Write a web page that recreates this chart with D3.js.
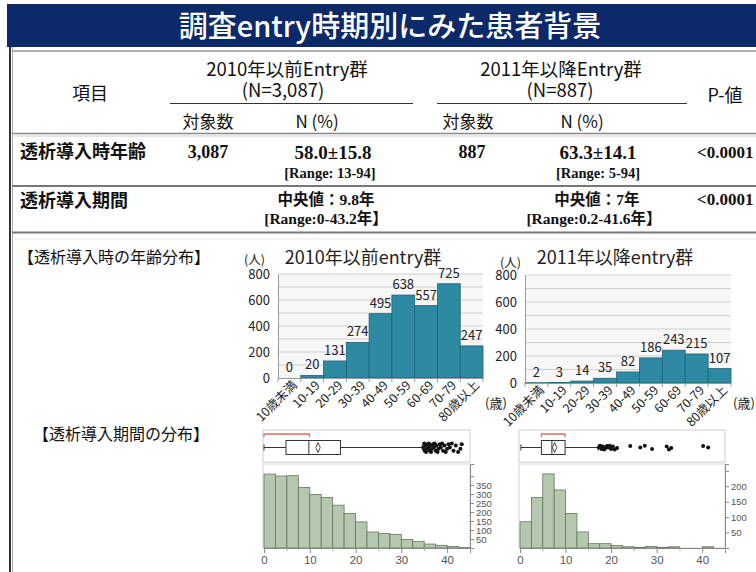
<!DOCTYPE html>
<html>
<head>
<meta charset="utf-8">
<script src="https://cdn.jsdelivr.net/npm/d3@7"></script>
<style>
body { margin: 0; background: #fff; }
svg { display: block; }
</style>
</head>
<body>
<script>
// ---- data ----
const ageGroups = ["10歳未満", "10-19", "20-29", "30-39", "40-49", "50-59", "60-69", "70-79", "80歳以上"];
const ageBefore = [0, 20, 131, 274, 495, 638, 557, 725, 247];   // 2010年以前entry群
const ageAfter = [2, 3, 14, 35, 82, 186, 243, 215, 107];        // 2011年以降entry群
const ageTicks = [0, 200, 400, 600, 800];

// dialysis duration histograms, bins of 2.5 years starting at 0
const binWidth = 2.5;
const durBefore = [411, 400, 402, 337, 298, 281, 238, 192, 145, 89, 80, 76, 48, 37, 22, 15, 9, 2];
const durAfter = [85, 164, 240, 188, 112, 52, 14, 14, 8, 4, 2, 5, 2, 4, 0, 0, 4];
const durXTicks = [0, 10, 20, 30, 40];
const durBeforeYTicks = [50, 100, 150, 200, 250, 300, 350];
const durAfterYTicks = [50, 100, 150, 200];

// box plots: [whisker low, Q1, median, Q3, whisker high]
const boxBefore = [0, 4.8, 9.8, 16.7, 34.6];
const boxAfter = [0.2, 4.7, 7.0, 9.9, 17.2];
const meanBefore = 11.8, meanAfter = 7.6;
const halfBefore = [0, 9.9], halfAfter = [4.7, 9.9];   // shortest half
const outBefore = [34.8, 35.0, 35.1, 35.3, 35.4, 35.6, 35.7, 35.9, 36.0, 36.2, 36.3, 36.5, 36.7, 36.9, 37.1,
  37.3, 37.5, 37.7, 37.9, 38.1, 38.4, 38.6, 38.9, 39.1, 39.4, 39.7, 40.0, 40.3, 40.6, 41.0, 41.4, 41.9, 42.4, 42.9, 43.2];
const outAfter = [17.3, 17.6, 17.9, 18.2, 18.5, 18.8, 19.1, 19.4, 19.7, 20.0, 20.4, 20.8, 21.3,
  24.2, 26.4, 27.4, 29.0, 32.2, 32.7, 33.2, 40.2, 41.3];

const SANS = "'Noto Sans CJK JP','Noto Sans',sans-serif";
const SERIF = "'Liberation Serif','DejaVu Serif','Noto Sans CJK JP',serif";

const W = 756, H = 572;
const svg = d3.select("body").append("svg").attr("width", W).attr("height", H);

function txt(x, y, s, o = {}) {
  return svg.append("text").attr("x", x).attr("y", y).text(s)
    .attr("font-family", o.family || SANS)
    .attr("font-size", o.size || 16)
    .attr("font-weight", o.weight || 400)
    .attr("fill", o.fill || "#111")
    .attr("text-anchor", o.anchor || "middle");
}
function hline(y, x1, x2, c, w) {
  svg.append("line").attr("x1", x1).attr("x2", x2).attr("y1", y).attr("y2", y)
    .attr("stroke", c).attr("stroke-width", w);
}

// ---- title bar ----
svg.append("rect").attr("x", 7).attr("y", 4).attr("width", W - 7).attr("height", 43).attr("fill", "#0c2a6a");
txt(390, 37, "調査entry時期別にみた患者背景", { size: 29, fill: "#fff", weight: 500 });

// left border
svg.append("line").attr("x1", 10).attr("x2", 10).attr("y1", 47).attr("y2", H).attr("stroke", "#333").attr("stroke-width", 2);
svg.append("line").attr("x1", 12.5).attr("x2", 12.5).attr("y1", 47).attr("y2", H).attr("stroke", "#aaa").attr("stroke-width", 1);

// ---- table ----
hline(51, 12, W, "#999", 1.5);
txt(90, 100, "項目", { size: 18 });
txt(287, 76, "2010年以前Entry群", { size: 18.5 });
txt(283, 97, "(N=3,087)", { size: 18.5 });
txt(561, 76, "2011年以降Entry群", { size: 18.5 });
txt(560, 97, "(N=887)", { size: 18.5 });
txt(725, 102, "P-値", { size: 18 });
hline(103.5, 170, 413, "#333", 1.2);
hline(103.5, 437, 687, "#333", 1.2);
txt(208, 128, "対象数", { size: 17 });
txt(317, 128, "N (%)", { size: 17 });
txt(468, 128, "対象数", { size: 17 });
txt(582, 128, "N (%)", { size: 17 });
hline(133.5, 12, W, "#888", 1.5);
hline(136, 12, W, "#ccc", 1);

txt(20, 158, "透析導入時年齢", { size: 18, weight: 700, anchor: "start" });
txt(208, 158, "3,087", { family: SERIF, size: 18, weight: 700 });
txt(333, 159, "58.0±15.8", { family: SERIF, size: 19, weight: 700 });
txt(330, 178, "[Range: 13-94]", { family: SERIF, size: 14.5, weight: 700 });
txt(472, 158, "887", { family: SERIF, size: 18, weight: 700 });
txt(598, 159, "63.3±14.1", { family: SERIF, size: 19, weight: 700 });
txt(598, 178, "[Range: 5-94]", { family: SERIF, size: 14.5, weight: 700 });
txt(697, 158, "<0.0001", { family: SERIF, size: 17, weight: 700, anchor: "start" });
hline(186, 12, W, "#777", 2);

txt(20, 207, "透析導入期間", { size: 18, weight: 700, anchor: "start" });
txt(326, 205, "中央値：9.8年", { family: SERIF, size: 15.5, weight: 700 });
txt(326, 224, "[Range:0-43.2年】", { family: SERIF, size: 15.5, weight: 700 });
txt(597, 205, "中央値：7年", { family: SERIF, size: 15.5, weight: 700 });
txt(594, 224, "[Range:0.2-41.6年】", { family: SERIF, size: 15.5, weight: 700 });
txt(697, 205, "<0.0001", { family: SERIF, size: 17, weight: 700, anchor: "start" });
hline(232.5, 12, W, "#777", 2);
hline(239, 14, W, "#eee", 1);

txt(18, 263, "【透析導入時の年齢分布】", { size: 16, anchor: "start" });
txt(33, 440, "【透析導入期間の分布】", { size: 16, anchor: "start" });

// ---- age bar charts ----
function barChart(o) {
  const g = svg.append("g");
  const x = d3.scaleBand().domain(ageGroups).range([o.left, o.right]);
  const y = d3.scaleLinear().domain([0, 800]).range([o.base, o.top]);

  g.append("rect").attr("x", o.left).attr("y", o.top).attr("width", o.right - o.left)
    .attr("height", o.base - o.top).attr("fill", "#f7f7f7");
  g.selectAll(".grid").data(y.ticks(8).filter(d => d > 0)).enter().append("line")
    .attr("x1", o.left).attr("x2", o.right).attr("y1", d => y(d)).attr("y2", d => y(d))
    .attr("stroke", "#cfcfcf").attr("stroke-width", 1);

  g.selectAll(".bar").data(o.values).enter().append("rect")
    .attr("x", (d, i) => x(ageGroups[i]))
    .attr("y", d => y(d))
    .attr("width", x.bandwidth())
    .attr("height", d => y(0) - y(d))
    .attr("fill", "#2e8aa2").attr("stroke", "#1d6375").attr("stroke-width", 0.8);

  g.selectAll(".val").data(o.values).enter().append("text")
    .attr("x", (d, i) => x(ageGroups[i]) + x.bandwidth() / 2)
    .attr("y", d => y(d) - 6)
    .attr("text-anchor", "middle").attr("font-family", SANS).attr("font-size", 13).attr("fill", "#222")
    .text(d => d);

  const ya = g.append("g").attr("transform", `translate(${o.left},0)`)
    .call(d3.axisLeft(y).tickValues(ageTicks).tickSize(0).tickPadding(8));
  ya.select(".domain").attr("stroke", "#999");
  ya.selectAll("text").attr("font-family", SANS).attr("font-size", 13).attr("fill", "#222");

  const xa = g.append("g").attr("transform", `translate(0,${o.base})`)
    .call(d3.axisBottom(x).tickSize(0));
  xa.select(".domain").attr("stroke", "#999");
  xa.selectAll("text").attr("font-family", SANS).attr("font-size", 12.5).attr("fill", "#222")
    .attr("text-anchor", "end").attr("dy", 0)
    .attr("transform", function () {
      return `translate(${x.bandwidth() / 2 - 3},8) rotate(-45)`;
    })
    .attr("y", 0).attr("x", 0);
  g.selectAll(".xt").data(ageGroups.concat([null])).enter().append("line")
    .attr("x1", (d, i) => o.left + i * x.bandwidth()).attr("x2", (d, i) => o.left + i * x.bandwidth())
    .attr("y1", o.base).attr("y2", o.base + 4).attr("stroke", "#999");

  txt(o.titleX, 264, o.title, { size: 18, fill: "#222" });
  txt(o.unitX, o.unitY, "(人)", { size: 12.5, fill: "#222", anchor: "start" });
  txt(o.right + 2, 408, "(歳)", { size: 13, fill: "#222", anchor: "start" });
}

barChart({ left: 278, right: 483, base: 378, top: 274, values: ageBefore,
  title: "2010年以前entry群", titleX: 363, unitX: 244, unitY: 264 });
barChart({ left: 525, right: 731, base: 383, top: 275, values: ageAfter,
  title: "2011年以降entry群", titleX: 615, unitX: 500, unitY: 267 });

// ---- duration distributions (box plot + histogram) ----
function distChart(o) {
  const g = svg.append("g");
  const x = d3.scaleLinear().domain([0, 45]).range([o.x0, o.x1]);
  const y = d3.scaleLinear().domain([0, o.ymax]).range([548, 464]);
  const font = "'Liberation Sans','DejaVu Sans',sans-serif";

  // box plot frame
  g.append("rect").attr("x", o.x0 - 1).attr("y", 430).attr("width", o.x1 - o.x0 + 1).attr("height", 32)
    .attr("fill", "none").attr("stroke", "#cdcdcd");
  // shortest half bracket
  g.append("path").attr("d", `M${x(o.half[0])},437V434H${x(o.half[1])}V437`)
    .attr("fill", "none").attr("stroke", "#e06b6b").attr("stroke-width", 1.3);

  const wy = 447.5;
  const b = o.box;
  g.append("line").attr("x1", x(b[0])).attr("x2", x(b[1])).attr("y1", wy).attr("y2", wy).attr("stroke", "#333");
  g.append("line").attr("x1", x(b[3])).attr("x2", x(b[4])).attr("y1", wy).attr("y2", wy).attr("stroke", "#333");
  [b[0], b[4]].forEach(v => g.append("line").attr("x1", x(v)).attr("x2", x(v))
    .attr("y1", wy - 3).attr("y2", wy + 3).attr("stroke", "#333"));
  g.append("rect").attr("x", x(b[1])).attr("y", 440.5).attr("width", x(b[3]) - x(b[1])).attr("height", 14)
    .attr("fill", "#fff").attr("stroke", "#333");
  g.append("line").attr("x1", x(b[2])).attr("x2", x(b[2])).attr("y1", 440.5).attr("y2", 454.5).attr("stroke", "#333");
  const mx = x(o.mean);
  g.append("path").attr("d", `M${mx},${wy - 5}L${mx + 2.2},${wy}L${mx},${wy + 5}L${mx - 2.2},${wy}Z`)
    .attr("fill", "none").attr("stroke", "#333").attr("stroke-width", 0.9);

  const jitter = [0, -3, 2.5, -1.5, 3.5, 1, -2.5];
  g.selectAll(".out").data(o.outliers).enter().append("circle")
    .attr("cx", d => x(d)).attr("cy", (d, i) => wy + jitter[i % jitter.length] * o.spread)
    .attr("r", 2).attr("fill", "#111");

  // histogram
  g.append("rect").attr("x", o.x0 - 1).attr("y", 464).attr("width", o.x1 - o.x0 + 1).attr("height", 84)
    .attr("fill", "none").attr("stroke", "#d5d5d5");
  g.selectAll(".hb").data(o.counts).enter().append("rect")
    .attr("x", (d, i) => x(i * binWidth))
    .attr("y", d => y(d))
    .attr("width", x(binWidth) - x(0))
    .attr("height", d => y(0) - y(d))
    .attr("fill", "#b5c8af").attr("stroke", "#66755f").attr("stroke-width", 0.8);

  const ya = g.append("g").attr("transform", `translate(${o.x1},0)`)
    .call(d3.axisRight(y).tickValues(o.yticks.concat(o.yextra)).tickSize(4).tickPadding(2)
      .tickFormat(d => o.yticks.includes(d) ? d : ""));
  ya.select(".domain").attr("stroke", "#888");
  ya.selectAll("line").attr("stroke", "#888");
  ya.selectAll("text").attr("font-family", font).attr("font-size", 9.5).attr("fill", "#555");

  const xa = g.append("g").attr("transform", "translate(0,548)")
    .call(d3.axisBottom(x).tickValues(durXTicks).tickSize(5).tickPadding(3));
  xa.select(".domain").attr("stroke", "#888");
  xa.selectAll("line").attr("stroke", "#888");
  xa.selectAll("text").attr("font-family", font).attr("font-size", 11.5).attr("fill", "#555");
  g.append("g").attr("transform", "translate(0,548)")
    .call(d3.axisBottom(x).tickValues(durXTicks.map(d => d + 5)).tickSize(3).tickFormat(""))
    .call(s => { s.select(".domain").remove(); s.selectAll("line").attr("stroke", "#aaa"); });
}

distChart({ x0: 264, x1: 470, ymax: 467, counts: durBefore, yticks: durBeforeYTicks, yextra: [400],
  box: boxBefore, mean: meanBefore, half: halfBefore, outliers: outBefore, spread: 1.3 });
distChart({ x0: 520, x1: 725, ymax: 272, counts: durAfter, yticks: durAfterYTicks, yextra: [250],
  box: boxAfter, mean: meanAfter, half: halfAfter, outliers: outAfter, spread: 0.6 });
</script>
</body>
</html>
